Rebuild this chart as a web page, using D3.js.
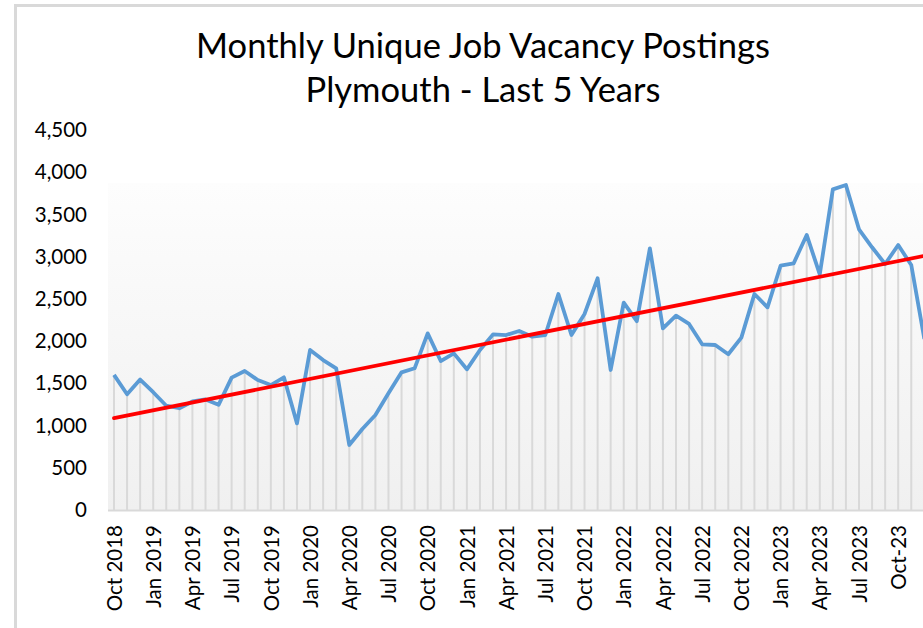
<!DOCTYPE html>
<html>
<head>
<meta charset="utf-8">
<script src="https://cdn.jsdelivr.net/npm/d3@7"></script>
<style>
  html, body { margin: 0; padding: 0; background: #fff; }
  svg { display: block; }
  text { font-family: Lato, "Open Sans", sans-serif; fill: #000; }
</style>
</head>
<body>
<svg id="chart" width="923" height="628"></svg>
<script>
// ---- data ----
const months = [
  "Oct 2018","Nov 2018","Dec 2018","Jan 2019","Feb 2019","Mar 2019","Apr 2019","May 2019","Jun 2019",
  "Jul 2019","Aug 2019","Sep 2019","Oct 2019","Nov 2019","Dec 2019","Jan 2020","Feb 2020","Mar 2020",
  "Apr 2020","May 2020","Jun 2020","Jul 2020","Aug 2020","Sep 2020","Oct 2020","Nov 2020","Dec 2020",
  "Jan 2021","Feb 2021","Mar 2021","Apr 2021","May 2021","Jun 2021","Jul 2021","Aug 2021","Sep 2021",
  "Oct 2021","Nov 2021","Dec 2021","Jan 2022","Feb 2022","Mar 2022","Apr 2022","May 2022","Jun 2022",
  "Jul 2022","Aug 2022","Sep 2022","Oct 2022","Nov 2022","Dec 2022","Jan 2023","Feb 2023","Mar 2023",
  "Apr 2023","May 2023","Jun 2023","Jul 2023","Aug 2023","Sep 2023","Oct-23","Nov-23","Dec-23"
];
const postings = [
  1600,1370,1545,1395,1235,1205,1285,1310,1245,
  1567,1646,1539,1480,1571,1026,1895,1776,1678,
  770,960,1125,1382,1630,1678,2092,1764,1855,
  1666,1895,2080,2072,2120,2053,2072,2558,2072,
  2321,2744,1658,2455,2236,3099,2151,2301,2203,
  1962,1954,1844,2041,2558,2400,2893,2921,3257,
  2791,3797,3849,3324,3111,2913,3138,2901,2025
];
const yTicks = [0,500,1000,1500,2000,2500,3000,3500,4000,4500];
const titleLines = ["Monthly Unique Job Vacancy Postings", "Plymouth - Last 5 Years"];

// ---- layout ----
const svg = d3.select("#chart");
const W = 923, H = 628;
const baseY = 510, topY = 130;
const x0 = 114, step = 13.07;

const x = d3.scaleLinear().domain([0, postings.length - 1]).range([x0, x0 + step * (postings.length - 1)]);
const y = d3.scaleLinear().domain([0, 4500]).range([baseY, topY]);

// outer chart border (cropped)
svg.append("line").attr("x1", 14).attr("x2", W).attr("y1", 5.5).attr("y2", 5.5)
  .attr("stroke", "#d9d9d9").attr("stroke-width", 3);
svg.append("line").attr("x1", 15.5).attr("x2", 15.5).attr("y1", 4).attr("y2", H)
  .attr("stroke", "#d9d9d9").attr("stroke-width", 3);

// plot area gradient
const defs = svg.append("defs");
const grad = defs.append("linearGradient").attr("id", "bg").attr("x1", 0).attr("x2", 0).attr("y1", 0).attr("y2", 1);
grad.append("stop").attr("offset", "0%").attr("stop-color", "#fdfdfd");
grad.append("stop").attr("offset", "100%").attr("stop-color", "#f0f0f0");
svg.append("rect").attr("x", 108).attr("y", 183).attr("width", W - 108).attr("height", baseY - 183)
  .attr("fill", "url(#bg)");

// drop lines
svg.append("g").selectAll("line").data(postings).join("line")
  .attr("x1", (d, i) => x(i)).attr("x2", (d, i) => x(i))
  .attr("y1", d => y(d)).attr("y2", baseY)
  .attr("stroke", "#d9d9d9").attr("stroke-width", 2);

// baseline
svg.append("line").attr("x1", 108).attr("x2", W).attr("y1", baseY + 0.5).attr("y2", baseY + 0.5)
  .attr("stroke", "#d9d9d9").attr("stroke-width", 2);

// y axis
const yAxis = d3.axisLeft(y).tickValues(yTicks).tickFormat(d3.format(",")).tickSize(0).tickPadding(0);
const gy = svg.append("g").attr("transform", "translate(87,0)").call(yAxis);
gy.select(".domain").remove();
gy.selectAll("text").attr("font-family", "Lato, sans-serif").attr("font-size", 20.5).attr("fill", "#000");

// x axis labels (every 3 months)
const tickIdx = d3.range(0, postings.length, 3).filter(i => i <= 60);
const xAxis = d3.axisBottom(x).tickValues(tickIdx).tickFormat(i => months[i]).tickSize(0).tickPadding(0);
const gx = svg.append("g").attr("transform", `translate(0,${baseY})`).call(xAxis);
gx.select(".domain").remove();
gx.selectAll("text")
  .attr("font-family", "Lato, sans-serif").attr("font-size", 20.5).attr("fill", "#000")
  .attr("text-anchor", "end").attr("dy", "0.35em")
  .attr("transform", "translate(0,15) rotate(-90)")
  .attr("x", 0).attr("y", 0);

// data line
const line = d3.line().x((d, i) => x(i)).y(d => y(d));
svg.append("path").datum(postings).attr("d", line)
  .attr("fill", "none").attr("stroke", "#5b9bd5").attr("stroke-width", 3.8)
  .attr("stroke-linejoin", "round");

// linear trend line (least squares)
const n = postings.length;
const mx = d3.mean(d3.range(n)), my = d3.mean(postings);
let sxy = 0, sxx = 0;
postings.forEach((v, i) => { sxy += (i - mx) * (v - my); sxx += (i - mx) * (i - mx); });
const slope = sxy / sxx, intercept = my - slope * mx;
svg.append("line")
  .attr("x1", x(0)).attr("y1", y(intercept))
  .attr("x2", x(n - 1)).attr("y2", y(intercept + slope * (n - 1)))
  .attr("stroke", "#ff0000").attr("stroke-width", 3.8).attr("stroke-linecap", "round");

// title
svg.append("text").attr("x", 483).attr("text-anchor", "middle").attr("font-size", 34.5)
  .selectAll("tspan").data(titleLines).join("tspan")
  .attr("x", 483).attr("y", (d, i) => 58 + i * 44).text(d => d);
</script>
</body>
</html>
